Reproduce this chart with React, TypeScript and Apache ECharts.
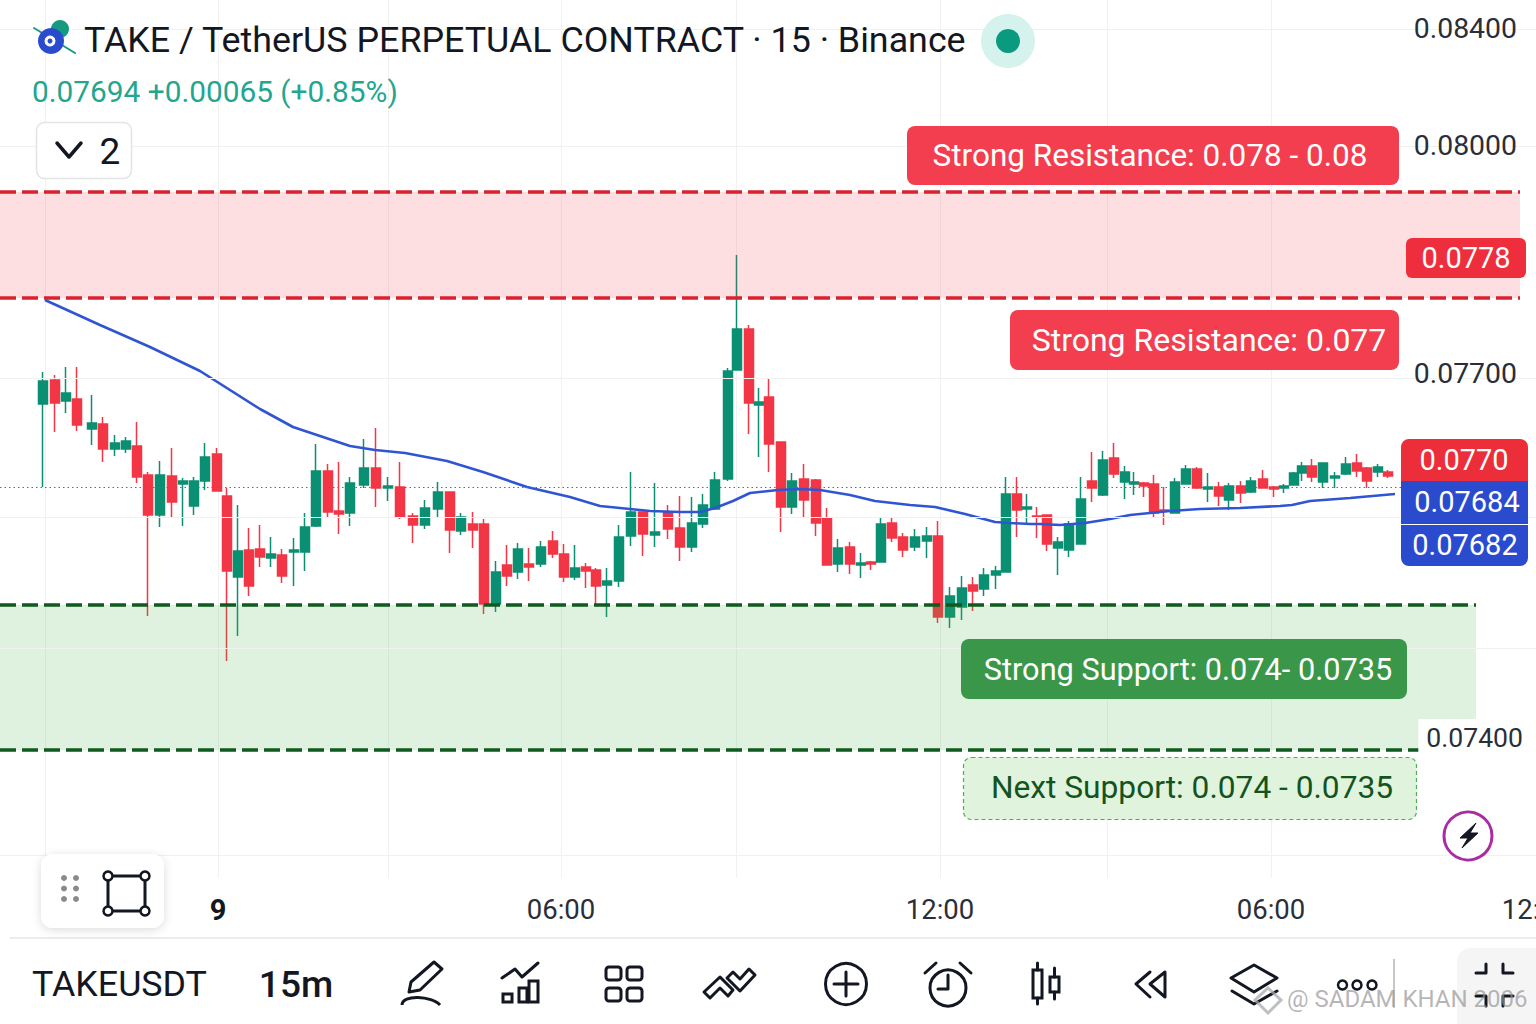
import React, { useEffect, useRef } from "react";
import * as echarts from "echarts";

// Time of each bar, in axis minutes from the "9" day boundary.
const barTimes = [-175,-163,-152,-141,-126,-115,-103,-92,-81,-70,-58,-46,-35,-24,-13,-1,9,20,31,42,53,64,76,87,98,110,121,132,146,158,170,182,195,207,220,232,243,255,266,278,289,300,311,323,335,346,357,368,378,389,401,413,425,437,450,462,474,485,497,510,519,531,541,551,563,574,586,598,609,620,632,643,653,663,674,685,697,709,720,732,744,755,766,778,788,799,809,819,829,840,851,863,874,885,896,907,916,926,936,946,957,968,979,990,1001,1011,1023,1033,1045,1056,1066,1076,1084,1094,1105,1117,1128,1139,1149,1160,1170];
const opens = [0.07756,0.0778,0.07759,0.07761,0.07731,0.07736,0.07711,0.07711,0.07714,0.07685,0.07645,0.07684,0.07676,0.07654,0.07679,0.07706,0.07664,0.07583,0.0761,0.07611,0.07602,0.07605,0.07608,0.07608,0.07634,0.07689,0.07649,0.07647,0.07675,0.07692,0.07672,0.07673,0.07644,0.07635,0.07651,0.07668,0.07629,0.07636,0.07636,0.07556,0.07595,0.07588,0.07596,0.07596,0.07619,0.07606,0.07583,0.07593,0.0759,0.07575,0.07579,0.07624,0.07648,0.07625,0.07648,0.07632,0.07613,0.07636,0.07651,0.07681,0.0779,0.07831,0.07755,0.07763,0.07718,0.07653,0.07681,0.0768,0.07642,0.07596,0.07613,0.07595,0.07598,0.07598,0.07637,0.07623,0.07613,0.07619,0.07624,0.07543,0.07553,0.07575,0.07571,0.07585,0.07588,0.07666,0.07651,0.07644,0.07645,0.07612,0.0761,0.07616,0.07679,0.07665,0.07702,0.07678,0.07676,0.07677,0.07676,0.0765,0.07647,0.07676,0.07691,0.07671,0.07673,0.0766,0.07674,0.07668,0.07681,0.07673,0.07672,0.07675,0.07687,0.07694,0.07678,0.07682,0.07686,0.07697,0.07692,0.07688,0.07688];
const closes = [0.07779,0.07757,0.07767,0.07735,0.07737,0.07711,0.07717,0.07719,0.07683,0.07645,0.07685,0.07658,0.07679,0.07679,0.07703,0.07669,0.07589,0.07609,0.07574,0.07603,0.07606,0.07584,0.0761,0.07633,0.07689,0.07648,0.07646,0.07677,0.07692,0.07672,0.07674,0.07643,0.07635,0.07652,0.07668,0.0763,0.07643,0.0763,0.07556,0.07588,0.07584,0.07611,0.07593,0.07613,0.07606,0.07583,0.07592,0.07589,0.07574,0.07579,0.07623,0.07648,0.07626,0.07628,0.07631,0.07613,0.07637,0.07655,0.0768,0.07789,0.07831,0.07757,0.07758,0.07716,0.07653,0.07679,0.0766,0.07637,0.07595,0.07612,0.07596,0.07597,0.07596,0.07636,0.07622,0.0761,0.07623,0.07624,0.07543,0.07564,0.07572,0.07569,0.07585,0.07589,0.07666,0.0765,0.07653,0.07643,0.07616,0.07618,0.07636,0.07661,0.07672,0.077,0.07686,0.07688,0.07678,0.07674,0.07647,0.07649,0.07678,0.07691,0.07672,0.07673,0.07664,0.07674,0.07667,0.07679,0.07672,0.07671,0.07674,0.07687,0.07694,0.07683,0.07697,0.07684,0.07696,0.07689,0.07679,0.07693,0.07684];
const lows = [0.07673,0.07728,0.07747,0.07729,0.07715,0.07698,0.07704,0.07707,0.07677,0.07544,0.07633,0.07643,0.07634,0.07645,0.0767,0.07669,0.07499,0.07524,0.07564,0.07593,0.07593,0.07577,0.07574,0.07589,0.07633,0.07642,0.07626,0.07634,0.07672,0.07653,0.07659,0.07641,0.07617,0.07631,0.07643,0.07607,0.07625,0.07612,0.07546,0.07548,0.07574,0.07581,0.07579,0.07593,0.07602,0.07578,0.0758,0.07572,0.07555,0.07543,0.07573,0.07614,0.07604,0.07613,0.07621,0.07599,0.07608,0.07632,0.0765,0.07679,0.0779,0.07726,0.07703,0.07688,0.07628,0.07646,0.07643,0.07624,0.07595,0.07588,0.07586,0.07582,0.0759,0.07598,0.07618,0.07603,0.07609,0.07602,0.07537,0.07532,0.0754,0.07549,0.07564,0.07571,0.07588,0.07623,0.07637,0.07622,0.07609,0.07585,0.07603,0.07616,0.07658,0.07664,0.07682,0.07661,0.07665,0.07663,0.07642,0.07635,0.07647,0.07676,0.07671,0.07658,0.07654,0.0765,0.07657,0.07667,0.07672,0.07663,0.07667,0.07675,0.07679,0.07678,0.07672,0.07672,0.07685,0.07683,0.07672,0.07683,0.07682];
const highs = [0.07788,0.07785,0.07793,0.07793,0.07765,0.07743,0.07725,0.07723,0.07738,0.07688,0.07699,0.07712,0.07682,0.07683,0.07717,0.07712,0.07672,0.07655,0.07632,0.07635,0.07623,0.07611,0.07622,0.07647,0.07716,0.07696,0.07698,0.07683,0.07721,0.07732,0.07683,0.07698,0.07647,0.0766,0.07678,0.07668,0.07647,0.07648,0.07641,0.07599,0.07615,0.07617,0.07612,0.07619,0.07629,0.07616,0.07615,0.07597,0.07592,0.07592,0.07635,0.07688,0.07648,0.07677,0.07655,0.07664,0.07663,0.07666,0.07688,0.07792,0.07905,0.07835,0.07772,0.07782,0.07718,0.07687,0.07696,0.07681,0.07652,0.07621,0.07618,0.07607,0.07599,0.07642,0.07643,0.07627,0.07631,0.07633,0.07639,0.07573,0.07584,0.07583,0.07592,0.07594,0.07683,0.07683,0.07666,0.07653,0.07645,0.07623,0.07639,0.07683,0.07708,0.07709,0.07717,0.07694,0.07688,0.07678,0.07685,0.07673,0.07682,0.07695,0.07693,0.07687,0.07678,0.07677,0.07679,0.07683,0.0769,0.07674,0.07676,0.07688,0.07698,0.07701,0.07697,0.07688,0.07703,0.07706,0.07693,0.07696,0.0769];

const maTimes = [-173,-118,-68,-18,42,75,132,157,187,229,265,309,352,382,402,432,462,482,497,515,532,560,582,602,632,657,692,717,747,777,792,812,822,842,867,892,912,952,982,1022,1062,1074,1092,1132,1177];
const maValues = [0.0786,0.07835,0.07813,0.07789,0.07751,0.07733,0.07714,0.0771,0.07707,0.07699,0.07688,0.07673,0.07663,0.07654,0.07652,0.07649,0.07648,0.07648,0.07652,0.07659,0.07667,0.0767,0.07671,0.0767,0.07665,0.07659,0.07655,0.07653,0.07646,0.07638,0.07637,0.07636,0.07636,0.07635,0.07637,0.07641,0.07645,0.07649,0.07651,0.07652,0.07654,0.07655,0.07659,0.07662,0.07666];

const lastPriceLine = 0.07673;
const resistanceZone = [0.07968, 0.07862];
const supportZone = [0.07555, 0.0741];
const resistanceEnd = 1302;
const supportEnd = 1258;
const supportBottomEnd = 1202;

const priceTickValues = [0.08132, 0.08015, 0.07787, 0.07423];
const priceTickLabels = ["0.08400", "0.08000", "0.07700", "0.07400"];
const priceGridValues = [0.08131, 0.08014, 0.07782, 0.07643, 0.07512, 0.07305];
const timeTickValues = [0, 343, 722, 1053, 1318];
const timeTickLabels = ["9", "06:00", "12:00", "06:00", "12:00"];
const timeGridValues = [-173, 0, 170, 343, 518, 722, 889, 1053];

const FONT = "Roboto";
const RED = "#f23645";
const GREEN = "#0a8f72";
const INK = "#131722";

const text = (t: string, x: number, y: number, size: number, fill: string, align = "left", weight: any = 400, extra: any = {}) => ({
  type: "text", x, y, z: 30,
  style: { text: t, fontFamily: FONT, fontSize: size, fontWeight: weight, fill, align, verticalAlign: "middle", ...extra },
});
const box = (x: number, y: number, w: number, h: number, r: any, fill: string, extra: any = {}) => ({
  type: "rect", z: 25, shape: { x, y, width: w, height: h, r }, style: { fill, ...extra },
});
const poly = (pts: number[][], stroke = INK, lineWidth = 3) => ({
  type: "polyline", z: 30, shape: { points: pts }, style: { stroke, lineWidth, fill: "none", lineJoin: "round", lineCap: "round" },
});
const pgon = (pts: number[][], stroke = INK, lineWidth = 3, fill = "none") => ({
  type: "polygon", z: 30, shape: { points: pts }, style: { stroke, lineWidth, fill, lineJoin: "round" },
});
const ring = (cx: number, cy: number, r: number, stroke = INK, lineWidth = 3, fill = "none") => ({
  type: "circle", z: 30, shape: { cx, cy, r }, style: { stroke, lineWidth, fill },
});
const dot = (cx: number, cy: number, r: number, fill: string) => ({ type: "circle", z: 30, shape: { cx, cy, r }, style: { fill } });

const graphics: any[] = [
  // header
  poly([[34, 28], [75, 53]], "#159a80", 2),
  dot(60, 29, 9, "#159a80"),
  dot(51, 41, 13, "#2b4bcf"),
  ring(50, 41, 4, "#ffffff", 3),
  text("TAKE / TetherUS PERPETUAL CONTRACT · 15 · Binance", 84, 40, 35.8, INK),
  dot(1008, 41, 27, "#d6f2ed"),
  dot(1008, 41, 12, "#0a9a80"),
  text("0.07694 +0.00065 (+0.85%)", 32, 91, 29.8, "#22a68f"),
  { ...box(36.5, 122.5, 95, 56, 8, "#ffffff", { stroke: "#e4e4e4", lineWidth: 1.5 }) },
  poly([[57, 143], [69, 157], [81, 143]], INK, 3.5),
  text("2", 110, 151, 37, INK, "center"),

  // annotation pills
  box(907, 126, 492, 59, 8, "#f23e4e"),
  text("Strong Resistance: 0.078 - 0.08", 1150, 155, 31.5, "#ffffff", "center"),
  box(1010, 310, 389, 60, 8, "#f23e4e"),
  text("Strong Resistance: 0.077", 1209, 340, 32, "#ffffff", "center"),
  box(961, 639, 446, 60, 8, "#3a9648"),
  text("Strong Support: 0.074- 0.0735", 1188, 669, 30.7, "#ffffff", "center"),
  box(963.5, 757.5, 453, 62, 8, "#dff3dd", { stroke: "#4caf50", lineWidth: 1.2, lineDash: [4, 3] }),
  text("Next Support: 0.074 - 0.0735", 1192, 787, 31.7, "#14531e", "center"),

  // price tags
  box(1406, 238, 120, 40, 6, "#ee2e3d"),
  text("0.0778", 1466, 258, 29, "#ffffff", "center"),
  box(1401, 439, 127, 42, [8, 8, 0, 0], "#ec2d3a"),
  text("0.0770", 1464, 460, 29, "#ffffff", "center"),
  box(1401, 481, 127, 43, 0, "#2b4bcf"),
  text("0.07684", 1467, 502, 29, "#ffffff", "center"),
  box(1401, 525, 127, 41, [0, 0, 8, 8], "#2b4bcf"),
  text("0.07682", 1465, 545, 29, "#ffffff", "center"),

  // lightning button
  ring(1468, 836, 24, "#a92ca2", 3, "#ffffff"),
  pgon([[1476, 823], [1460, 838], [1468, 838], [1462, 848], [1478, 833], [1470, 833]], INK, 1, INK),

  // drawing toolbar
  box(41, 854, 123, 74, 12, "#ffffff", { shadowBlur: 10, shadowColor: "rgba(0,0,0,0.14)", shadowOffsetY: 2 }),
  ...[878, 888.5, 899].flatMap((y) => [dot(64, y, 3, "#8a8a8a"), dot(76, y, 3, "#8a8a8a")]),
  pgon([[108, 876], [145, 876], [145, 911], [108, 911]], INK, 3),
  ...[[108, 876], [145, 876], [108, 911], [145, 911]].map(([x, y]) => ring(x, y, 4.5, INK, 2.5, "#ffffff")),

  // separator and bottom bar
  { type: "line", z: 20, shape: { x1: 10, y1: 938, x2: 1536, y2: 938 }, style: { stroke: "#e6e6e6", lineWidth: 1.5 } },
  text("TAKEUSDT", 32, 984, 35.8, INK),
  text("15m", 296, 984, 37, INK, "center", 500),

  // pencil
  pgon([[434, 962], [442, 969], [420, 990], [409, 992], [411, 982]]),
  { type: "bezierCurve", z: 30, shape: { x1: 402, y1: 1005, cpx1: 402, cpy1: 994, cpx2: 432, cpy2: 996, x2: 440, y2: 1005 }, style: { stroke: INK, lineWidth: 3, fill: "none" } },
  // indicators
  poly([[502, 978], [515, 969], [522, 977], [538, 963]]),
  ...[[503, 994, 9, 8], [519, 988, 8, 14], [529, 981, 9, 21]].map(([x, y, w, h]) => ({ ...box(x, y, w, h, 0, "none", { stroke: INK, lineWidth: 3 }), z: 30 })),
  // layout grid
  ...[[606, 967], [627, 967], [606, 988], [627, 988]].map(([x, y]) => ({ ...box(x, y, 15, 13, 3, "none", { stroke: INK, lineWidth: 3 }), z: 30 })),
  // chevrons
  pgon([[704, 992], [720, 977], [733, 990], [728, 996], [720, 988], [710, 998]]),
  pgon([[727, 978], [733, 972], [740, 979], [749, 969], [755, 975], [740, 991]]),
  // plus
  ring(846, 984, 20.5),
  poly([[834, 984], [858, 984]]),
  poly([[846, 972], [846, 996]]),
  // alarm
  ring(948, 988, 18),
  poly([[948, 975], [948, 989], [938, 989]]),
  poly([[925, 973], [936, 963]]),
  poly([[960, 963], [971, 973]]),
  // candle icon
  { ...box(1033, 970, 9, 28, 0, "none", { stroke: INK, lineWidth: 3 }), z: 30 },
  poly([[1037.5, 963], [1037.5, 970]]), poly([[1037.5, 998], [1037.5, 1004]]),
  { ...box(1050, 977, 9, 15, 0, "none", { stroke: INK, lineWidth: 3 }), z: 30 },
  poly([[1054.5, 968], [1054.5, 977]]), poly([[1054.5, 992], [1054.5, 999]]),
  // rewind
  poly([[1150, 972], [1136, 984], [1150, 997]]),
  pgon([[1165, 972], [1150, 984], [1165, 997]]),
  // layers
  pgon([[1254, 965], [1277, 978], [1254, 992], [1231, 978]]),
  poly([[1232, 991], [1254, 1004], [1277, 991]]),
  // more
  ring(1342.5, 985, 4.5, INK, 2.5), ring(1357, 985, 4.5, INK, 2.5), ring(1372, 985, 4.5, INK, 2.5),
  { type: "line", z: 20, shape: { x1: 1394, y1: 959, x2: 1394, y2: 1008 }, style: { stroke: "#c8c8c8", lineWidth: 2 } },
  // fullscreen
  box(1457, 948, 79, 76, [14, 0, 0, 0], "#f5f5f5"),
  poly([[1476, 973], [1486, 973], [1486, 964]]),
  poly([[1503, 964], [1503, 973], [1513, 973]]),
  poly([[1476, 996], [1486, 996], [1486, 1006]]),
  poly([[1503, 1006], [1503, 996], [1513, 996]]),
  // watermark
  { type: "polygon", z: 31, shape: { points: [[1268, 988], [1281, 1000], [1268, 1013], [1255, 1000]] }, style: { stroke: "rgba(170,170,170,0.75)", lineWidth: 3, fill: "none" } },
  { ...text("@ SADAM KHAN 2006", 1287, 999, 24, "rgba(150,150,150,0.7)"), z: 31 },
];

export default function App() {
  const ref = useRef<HTMLDivElement>(null);
  useEffect(() => {
    const chart = echarts.init(ref.current!, undefined, { renderer: "svg" });
    const candles = barTimes.map((t, i) => [t, opens[i], closes[i], lows[i], highs[i]]);
    chart.setOption({
      animation: false,
      backgroundColor: "#ffffff",
      grid: { left: 0, right: 0, top: 0, height: 878, containLabel: false, outerBoundsMode: "none" },
      xAxis: {
        type: "value",
        min: -218,
        max: 1318,
        axisLine: { show: false },
        axisTick: { show: false, customValues: timeGridValues },
        splitLine: { show: true, lineStyle: { color: "#f1f1f1", width: 1 } },
        axisLabel: {
          customValues: timeTickValues,
          margin: 17,
          fontFamily: FONT,
          fontSize: 27.5,
          color: "#2a2e39",
          showMinLabel: true,
          showMaxLabel: true,
          hideOverlap: false,
          formatter: (v: number) => {
            const label = timeTickLabels[timeTickValues.indexOf(v)] ?? "";
            return label === "9" ? `{b|${label}}` : label;
          },
          rich: { b: { fontFamily: FONT, fontSize: 29, fontWeight: 700, color: INK } },
        },
      },
      yAxis: {
        type: "value",
        position: "right",
        min: 0.07282,
        max: 0.0816,
        z: 6,
        axisLine: { show: false },
        axisTick: { show: false, customValues: priceGridValues },
        splitLine: { show: true, lineStyle: { color: "#f1f1f1", width: 1 } },
        axisLabel: {
          inside: true,
          margin: 13,
          customValues: priceTickValues,
          fontFamily: FONT,
          fontSize: 28.4,
          color: "#2a2e39",
          showMinLabel: true,
          showMaxLabel: true,
          formatter: (v: number) => {
            const label = priceTickLabels[priceTickValues.indexOf(v)] ?? "";
            return label === "0.07400" ? `{w|${label}}` : `{n|${label}}`;
          },
          rich: {
            n: { fontFamily: FONT, fontSize: 28.4, color: "#2a2e39", padding: [0, 6, 0, 0] },
            w: { fontFamily: FONT, fontSize: 26.6, color: "#2a2e39", backgroundColor: "#ffffff", padding: [5, 0, 4, 8] },
          },
        },
      },
      series: [
        {
          type: "candlestick",
          z: 2,
          barWidth: 9,
          data: candles,
          encode: { x: 0, y: [1, 2, 3, 4] },
          itemStyle: { color: GREEN, color0: RED, borderColor: GREEN, borderColor0: RED, borderWidth: 1.5 },
        },
        {
          type: "line",
          z: 3,
          data: maTimes.map((t, i) => [t, maValues[i]]),
          showSymbol: false,
          symbol: "none",
          lineStyle: { color: "#2f55d4", width: 2.6 },
        },
        {
          type: "line",
          z: 5,
          data: [],
          markArea: {
            silent: true,
            z: 5,
            data: [
              [
                { xAxis: -218, yAxis: resistanceZone[0], itemStyle: { color: "rgba(242,54,69,0.16)" } },
                { xAxis: resistanceEnd, yAxis: resistanceZone[1] },
              ],
              [
                { xAxis: -218, yAxis: supportZone[0], itemStyle: { color: "rgba(76,175,80,0.18)" } },
                { xAxis: supportEnd, yAxis: supportZone[1] },
              ],
            ],
          },
          markLine: {
            silent: true,
            z: 6,
            symbol: "none",
            label: { show: false },
            data: [
              [
                { xAxis: -218, yAxis: lastPriceLine, lineStyle: { color: "#6a6a6a", width: 1, type: [1.5, 3] } },
                { xAxis: resistanceEnd, yAxis: lastPriceLine },
              ],
              [
                { xAxis: -218, yAxis: resistanceZone[0], lineStyle: { color: "#d8232f", width: 3.5, type: [16, 6] } },
                { xAxis: resistanceEnd, yAxis: resistanceZone[0] },
              ],
              [
                { xAxis: -218, yAxis: resistanceZone[1], lineStyle: { color: "#d8232f", width: 3.5, type: [16, 6] } },
                { xAxis: resistanceEnd, yAxis: resistanceZone[1] },
              ],
              [
                { xAxis: -218, yAxis: supportZone[0], lineStyle: { color: "#0f5a1e", width: 3.5, type: [16, 6] } },
                { xAxis: supportEnd, yAxis: supportZone[0] },
              ],
              [
                { xAxis: -218, yAxis: supportZone[1], lineStyle: { color: "#0f5a1e", width: 3.5, type: [16, 6] } },
                { xAxis: supportBottomEnd, yAxis: supportZone[1] },
              ],
            ],
          },
        },
      ],
      graphic: { elements: graphics },
    });
    return () => chart.dispose();
  }, []);
  return <div ref={ref} style={{ position: "fixed", left: 0, top: 0, width: 1536, height: 1024 }} />;
}
